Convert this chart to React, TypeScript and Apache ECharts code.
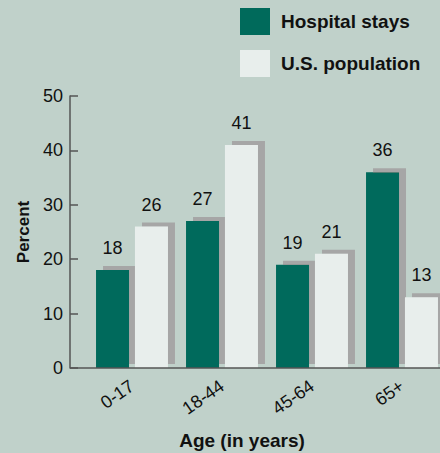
import React, { useEffect, useRef } from "react";
import * as echarts from "echarts";

// Age groups and share of hospital stays vs. share of U.S. population (percent)
const ageGroups = ["0-17", "18-44", "45-64", "65+"];
const hospitalStays = [18, 27, 19, 36];
const usPopulation = [26, 41, 21, 13];
const seriesNames = ["Hospital stays", "U.S. population"];

const BG = "#c0d1ca";
const TEAL = "#006a5b";
const PALE = "#e8eeec";
const SHADOW = "#a6a6a6";
const INK = "#111111";
const FONT = "'Liberation Sans', Arial, Helvetica, sans-serif";

export default function App() {
  const ref = useRef<HTMLDivElement>(null);

  useEffect(() => {
    if (!ref.current) return;
    const chart = echarts.init(ref.current, null, { renderer: "svg" });

    // Flat drop shadow offset up and to the right of each bar
    const barStyle = (color: string) => ({
      color,
      shadowColor: SHADOW,
      shadowBlur: 0,
      shadowOffsetX: 7,
      shadowOffsetY: -4,
    });

    const valueLabel = {
      show: true,
      position: "top" as const,
      distance: 13,
      fontSize: 18,
      color: INK,
      fontFamily: FONT,
    };

    chart.setOption({
      animation: false,
      backgroundColor: BG,
      textStyle: { fontFamily: FONT },
      legend: {
        orient: "vertical",
        left: 240,
        top: 8,
        padding: 0,
        itemWidth: 30,
        itemHeight: 27,
        itemGap: 15,
        icon: "rect",
        data: seriesNames,
        textStyle: { fontSize: 19, fontWeight: "bold", color: INK, fontFamily: FONT, padding: [0, 0, 0, 6] },
      },
      grid: { left: 87, top: 96, width: 360, height: 272, outerBoundsMode: "none", containLabel: false },
      xAxis: {
        type: "category",
        data: ageGroups,
        axisLine: { show: false },
        axisTick: { show: false },
        axisLabel: {
          rotate: 35,
          margin: 16,
          fontSize: 18,
          color: INK,
          fontFamily: FONT,
          padding: [0, 0, 0, 0],
        },
        name: "Age (in years)",
        nameLocation: "middle",
        nameGap: 63,
        nameTextStyle: {
          fontSize: 19,
          fontWeight: "bold",
          color: INK,
          fontFamily: FONT,
          padding: [0, 50, 0, 0],
        },
      },
      yAxis: {
        type: "value",
        min: 0,
        max: 50,
        interval: 10,
        offset: 17,
        axisLine: { show: true, lineStyle: { color: "#555555", width: 1.5 } },
        axisTick: { show: true, inside: true, length: 8, lineStyle: { color: "#555555", width: 1.5 } },
        splitLine: { show: false },
        axisLabel: { margin: 7, fontSize: 18, color: INK, fontFamily: FONT },
        name: "Percent",
        nameLocation: "middle",
        nameGap: 37,
        nameTextStyle: { fontSize: 17, fontWeight: "bold", color: INK, fontFamily: FONT },
      },
      graphic: [
        {
          type: "line",
          shape: { x1: 70, y1: 368, x2: 440, y2: 368 },
          style: { stroke: "#555555", lineWidth: 1.5 },
          z: 10,
        },
      ],
      series: [
        {
          name: seriesNames[0],
          type: "bar",
          data: hospitalStays,
          barWidth: 33,
          barGap: "18%",
          itemStyle: barStyle(TEAL),
          label: valueLabel,
        },
        {
          name: seriesNames[1],
          type: "bar",
          data: usPopulation,
          barWidth: 33,
          barGap: "18%",
          itemStyle: barStyle(PALE),
          label: valueLabel,
        },
      ],
    });

    return () => chart.dispose();
  }, []);

  return (
    <div
      ref={ref}
      style={{ position: "fixed", left: 0, top: 0, width: 440, height: 453 }}
    />
  );
}
